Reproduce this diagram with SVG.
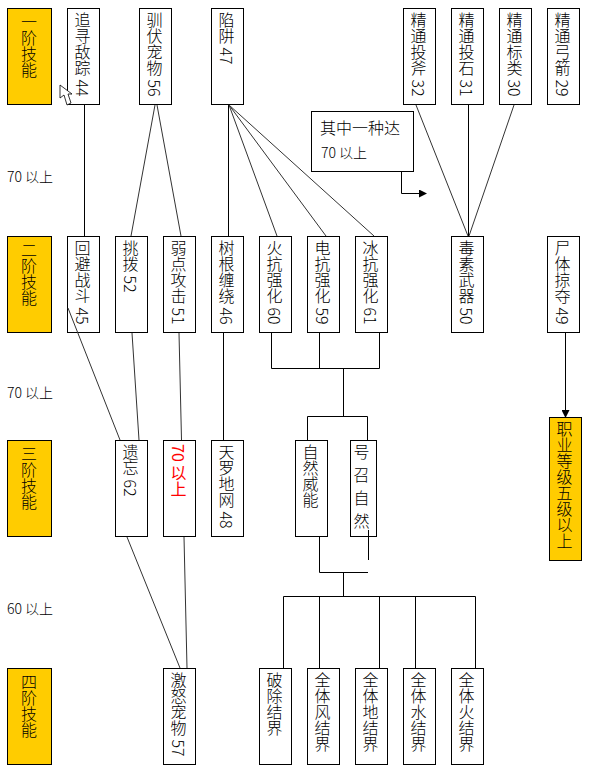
<svg xmlns="http://www.w3.org/2000/svg" width="589" height="778" viewBox="0 0 589 778">
<style>
text{font-family:"Noto Sans CJK SC","Liberation Sans",sans-serif;font-size:16px;font-weight:300;fill:#000}
.v{writing-mode:vertical-rl}
.r{fill:#f00;font-weight:400}
.n{fill:#fff;stroke:#000;stroke-width:1}
.g{fill:#fc0;stroke:#000;stroke-width:1}
#connectors path{fill:none;stroke:#000;stroke-width:1}
#connectors .d{stroke:#333}
.l{font-size:14px}
</style>
<defs><marker id="a" markerWidth="8" markerHeight="8" refX="7" refY="4" orient="auto" markerUnits="userSpaceOnUse"><path d="M0 0L8 4L0 8Z" fill="#000"/></marker></defs>
<rect width="589" height="778" fill="#fff"/>
<g id="t1"><rect class="g" x="7.500" y="8.500" width="44" height="96"/><text class="v" x="29" y="14">一阶技能</text></g>
<g id="t2"><rect class="g" x="7.500" y="236.500" width="44" height="96"/><text class="v" x="29" y="242">二阶技能</text></g>
<g id="t3"><rect class="g" x="7.500" y="440.500" width="44" height="96"/><text class="v" x="29" y="446">三阶技能</text></g>
<g id="t4"><rect class="g" x="7.500" y="668.500" width="44" height="96"/><text class="v" x="29" y="674">四阶技能</text></g>
<g id="n44"><rect class="n" x="67.500" y="8.500" width="32" height="96"/><text class="v" x="82.500" y="12">追寻敌踪 44</text></g>
<g id="n56"><rect class="n" x="139.500" y="8.500" width="32" height="96"/><text class="v" x="154.500" y="12">驯伏宠物 56</text></g>
<g id="n47"><rect class="n" x="211.500" y="8.500" width="32" height="96"/><text class="v" x="226.500" y="12">陷阱 47</text></g>
<g id="n32"><rect class="n" x="403.500" y="8.500" width="32" height="96"/><text class="v" x="418.500" y="12">精通投斧 32</text></g>
<g id="n31"><rect class="n" x="451.500" y="8.500" width="32" height="96"/><text class="v" x="466.500" y="12">精通投石 31</text></g>
<g id="n30"><rect class="n" x="499.500" y="8.500" width="32" height="96"/><text class="v" x="514.500" y="12">精通标类 30</text></g>
<g id="n29"><rect class="n" x="547.500" y="8.500" width="32" height="96"/><text class="v" x="562.500" y="12">精通弓箭 29</text></g>
<g id="note"><rect class="n" x="311.500" y="111.500" width="102" height="60"/><text x="320" y="134">其中一种达</text><text x="321" y="158" class="l">70 以上</text></g>
<g id="n45"><rect class="n" x="67.500" y="236.500" width="32" height="96"/><text class="v" x="82.500" y="240">回避战斗 45</text></g>
<g id="n52"><rect class="n" x="115.500" y="236.500" width="32" height="96"/><text class="v" x="130.500" y="240">挑拨 52</text></g>
<g id="n51"><rect class="n" x="163.500" y="236.500" width="32" height="96"/><text class="v" x="178.500" y="240">弱点攻击 51</text></g>
<g id="n46"><rect class="n" x="211.500" y="236.500" width="32" height="96"/><text class="v" x="226.500" y="240">树根缠绕 46</text></g>
<g id="n60"><rect class="n" x="259.500" y="236.500" width="32" height="96"/><text class="v" x="274.500" y="240">火抗强化 60</text></g>
<g id="n59"><rect class="n" x="307.500" y="236.500" width="32" height="96"/><text class="v" x="322.500" y="240">电抗强化 59</text></g>
<g id="n61"><rect class="n" x="355.500" y="236.500" width="32" height="96"/><text class="v" x="370.500" y="240">冰抗强化 61</text></g>
<g id="n50"><rect class="n" x="451.500" y="236.500" width="32" height="96"/><text class="v" x="466.500" y="240">毒素武器 50</text></g>
<g id="n49"><rect class="n" x="547.500" y="236.500" width="32" height="96"/><text class="v" x="562.500" y="240">尸体掠夺 49</text></g>
<g id="n62"><rect class="n" x="115.500" y="440.500" width="32" height="96"/><text class="v" x="130.500" y="444">遗忘 62</text></g>
<g id="n70"><rect class="n" x="163.500" y="440.500" width="32" height="96"/><text class="v r" x="178.500" y="444">70 以上</text></g>
<g id="n48"><rect class="n" x="211.500" y="440.500" width="32" height="96"/><text class="v" x="226.500" y="444">天罗地网 48</text></g>
<g id="nzr"><rect class="n" x="295.500" y="440.500" width="32" height="96"/><text class="v" x="310.500" y="444">自然威能</text></g>
<g id="nhz"><rect class="n" x="350.500" y="440.500" width="26" height="96"/><text class="v" x="361.500" y="444" style="letter-spacing:7px">号召自然</text></g>
<g id="nzy"><rect class="g" x="549.500" y="417.500" width="32" height="143"/><text class="v" x="564.500" y="421">职业等级五级以上</text></g>
<g id="n57"><rect class="n" x="163.500" y="668.500" width="32" height="96"/><text class="v" x="178.500" y="672">激怒宠物 57</text></g>
<g id="npc"><rect class="n" x="259.500" y="668.500" width="32" height="96"/><text class="v" x="274.500" y="672">破除结界</text></g>
<g id="nf"><rect class="n" x="307.500" y="668.500" width="32" height="96"/><text class="v" x="322.500" y="672">全体风结界</text></g>
<g id="nd"><rect class="n" x="355.500" y="668.500" width="32" height="96"/><text class="v" x="370.500" y="672">全体地结界</text></g>
<g id="ns"><rect class="n" x="403.500" y="668.500" width="32" height="96"/><text class="v" x="418.500" y="672">全体水结界</text></g>
<g id="nh"><rect class="n" x="451.500" y="668.500" width="32" height="96"/><text class="v" x="466.500" y="672">全体火结界</text></g>
<g id="labels"><text x="7" y="182" class="l">70 以上</text><text x="7" y="398" class="l">70 以上</text><text x="7" y="614" class="l">60 以上</text></g>
<g id="connectors">
<path d="M84.500 105V236M228.500 105V236"/>
<path class="d" d="M155 105L131 236M157 105L181 236M229 105L277 236M229 105L326 236M229 105L374 236M416 105L468 236M514 105L469 236M68 308L120 440M132 333L139 440M179 333L181.500 440M127 537L180 668M184 537L187 668"/>
<path d="M468.500 105V236M223.500 333V440M271.500 333V368.500H379.500V333M319.500 333V368.500M343.500 368.500V416.500M307.500 440V416.500H367.500V440M319.500 537V572.500H368M343.500 572.500V596.500M283.500 668V596.500H475.500V668M319.500 596.500V668M379.500 596.500V668M415.500 596.500V668M368.500 530V560"/>
<path d="M565.500 333V417" marker-end="url(#a)"/>
<path d="M401.500 171V193.500H426" marker-end="url(#a)"/>
</g>
<g id="cursor"><path d="M60 85L60 98L64 95L67 105L71 103L68 94L72 94Z" fill="#fff" stroke="#000" stroke-width=".8"/></g>
</svg>
